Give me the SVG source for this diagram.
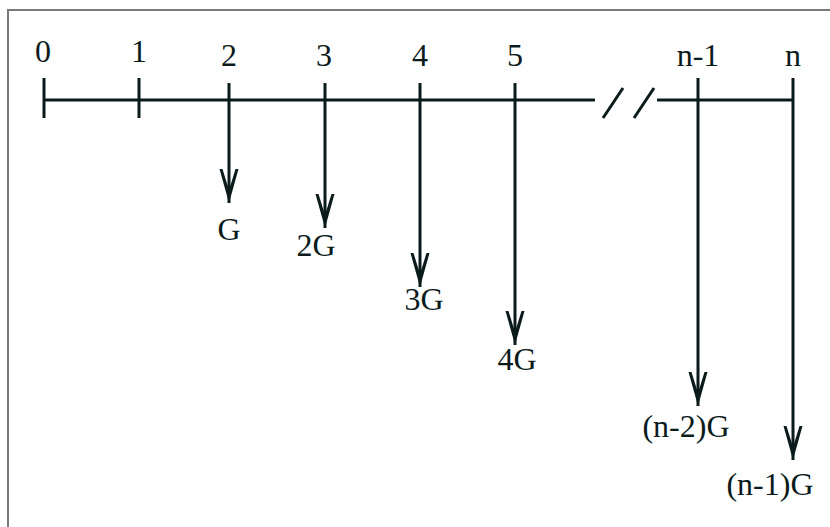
<svg xmlns="http://www.w3.org/2000/svg" width="830" height="527" viewBox="0 0 830 527">
<defs>
<style>
.ln{stroke:#0b1a1a;stroke-width:3;fill:none}
.lb{font-family:"Liberation Serif","Times New Roman",serif;font-size:32px;fill:#0b1a1a;text-anchor:middle}
</style>
<marker id="ah" markerUnits="userSpaceOnUse" viewBox="-10 -36 20 37" refX="0" refY="0" markerWidth="20" markerHeight="37" orient="auto-start-reverse" overflow="visible">
<path d="M0,0 L-9.5,-34 L-6.5,-34 L0,-13 L6.5,-34 L9.5,-34 Z" fill="#0b1a1a" transform="rotate(-90)"/>
</marker>
</defs>
<rect width="830" height="527" fill="#fff"/>
<path d="M8,527 V10 H830" fill="none" stroke="#7a7a7a" stroke-width="2"/>
<g id="beam">
<path class="ln" d="M44,100 H595 M657,100 H793"/>
<path class="ln" d="M603,118 L623,88 M634,118 L654,88"/>
</g>
<g id="tick0"><path class="ln" d="M44,78 V118"/><text class="lb" x="43" y="62">0</text></g>
<g id="tick1"><path class="ln" d="M139,78 V118"/><text class="lb" x="139" y="62">1</text></g>
<g id="tick2"><text class="lb" x="229" y="66">2</text></g>
<g id="tick3"><text class="lb" x="324" y="66">3</text></g>
<g id="tick4"><text class="lb" x="420" y="66">4</text></g>
<g id="tick5"><text class="lb" x="515" y="66">5</text></g>
<g id="tickn1"><text class="lb" x="698" y="66">n-1</text></g>
<g id="tickn"><text class="lb" x="793" y="66">n</text></g>
<g id="connectors">
<path class="ln" d="M229,83 V203" marker-end="url(#ah)"/>
<path class="ln" d="M325,83 V228" marker-end="url(#ah)"/>
<path class="ln" d="M420,83 V287" marker-end="url(#ah)"/>
<path class="ln" d="M515,83 V345" marker-end="url(#ah)"/>
<path class="ln" d="M698,78 V406" marker-end="url(#ah)"/>
<path class="ln" d="M793,78 V460" marker-end="url(#ah)"/>
</g>
<g id="load1"><text class="lb" x="229" y="240">G</text></g>
<g id="load2"><text class="lb" x="316" y="256">2G</text></g>
<g id="load3"><text class="lb" x="424" y="310">3G</text></g>
<g id="load4"><text class="lb" x="517" y="370">4G</text></g>
<g id="loadn1"><text class="lb" x="686" y="437">(n-2)G</text></g>
<g id="loadn"><text class="lb" x="770" y="495">(n-1)G</text></g>
</svg>
